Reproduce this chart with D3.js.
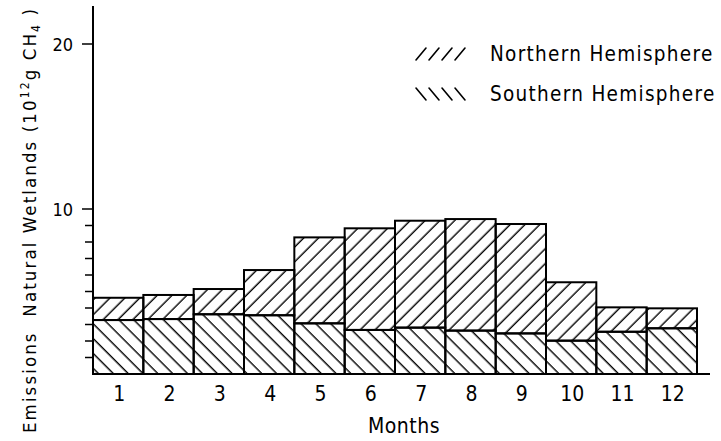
<!DOCTYPE html>
<html>
<head>
<meta charset="utf-8">
<script src="https://cdn.jsdelivr.net/npm/d3@7"></script>
<style>
  html, body { margin: 0; padding: 0; background: #fff; }
  svg { display: block; }
  text { font-family: "DejaVu Sans Condensed", "DejaVu Sans", sans-serif; fill: #000; }
</style>
</head>
<body>
<script>
// Monthly methane emissions from natural wetlands, split by hemisphere (10^12 g CH4)
const months = ["1", "2", "3", "4", "5", "6", "7", "8", "9", "10", "11", "12"];
const southern = [3.27, 3.33, 3.62, 3.56, 3.07, 2.67, 2.81, 2.63, 2.46, 2.02, 2.56, 2.77];
const northern = [1.35, 1.46, 1.53, 2.74, 5.21, 6.16, 6.48, 6.76, 6.63, 3.54, 1.48, 1.21];
const yMajorTicks = [10, 20];
const yMinorTicks = [1, 2, 3, 4, 5, 6, 7, 8, 9];
const seriesNames = ["Northern Hemisphere", "Southern Hemisphere"];

const W = 721, H = 441;
const x0 = 93, x1 = 697;
const svg = d3.select("body").append("svg").attr("width", W).attr("height", H);

// hatch patterns: "/" for the northern part, "\" for the southern part
const defs = svg.append("defs");
function hatch(id, angle) {
  const p = defs.append("pattern")
    .attr("id", id)
    .attr("patternUnits", "userSpaceOnUse")
    .attr("width", 10.5).attr("height", 10.5)
    .attr("patternTransform", `rotate(${angle})`);
  p.append("line")
    .attr("x1", 5).attr("y1", -2).attr("x2", 5).attr("y2", 13)
    .attr("stroke", "#000").attr("stroke-width", 1.4);
}
hatch("hatchN", 45);
hatch("hatchS", -45);

const x = d3.scaleBand().domain(months).range([x0, x1]).padding(0);
const y = d3.scaleLinear().domain([0, 20]).range([374, 44]);

// stacked series: southern at the bottom, northern on top
const rows = months.map((m, i) => ({ month: m, south: southern[i], north: northern[i] }));
const stack = d3.stack().keys(["south", "north"])(rows);
const fills = { south: "url(#hatchS)", north: "url(#hatchN)" };

svg.append("g").selectAll("g")
  .data(stack)
  .join("g")
  .attr("fill", d => fills[d.key])
  .selectAll("rect")
  .data(d => d)
  .join("rect")
  .attr("x", d => x(d.data.month))
  .attr("width", x.bandwidth())
  .attr("y", d => y(d[1]))
  .attr("height", d => y(d[0]) - y(d[1]))
  .attr("stroke", "#000")
  .attr("stroke-width", 2);

// y axis: vertical line, major and minor ticks
const gy = svg.append("g");
gy.append("line")
  .attr("x1", x0).attr("x2", x0)
  .attr("y1", 6).attr("y2", y(0) + 1)
  .attr("stroke", "#000").attr("stroke-width", 2);
gy.selectAll("line.minor").data(yMinorTicks).join("line")
  .attr("class", "minor")
  .attr("x1", x0 - 8).attr("x2", x0)
  .attr("y1", d => y(d)).attr("y2", d => y(d))
  .attr("stroke", "#000").attr("stroke-width", 1.5);
gy.selectAll("line.major").data(yMajorTicks).join("line")
  .attr("class", "major")
  .attr("x1", x0 - 11).attr("x2", x0)
  .attr("y1", d => y(d)).attr("y2", d => y(d))
  .attr("stroke", "#000").attr("stroke-width", 1.5);
gy.selectAll("text").data(yMajorTicks).join("text")
  .attr("x", x0 - 20)
  .attr("y", d => y(d) + 6.5)
  .attr("text-anchor", "end")
  .attr("font-size", 18)
  .text(d => d);

// x axis baseline and month labels
svg.append("line")
  .attr("x1", x0).attr("x2", 710)
  .attr("y1", y(0)).attr("y2", y(0))
  .attr("stroke", "#000").attr("stroke-width", 2);
svg.append("g").selectAll("text").data(months).join("text")
  .attr("x", d => x(d) + x.bandwidth() / 2 + 1)
  .attr("y", 401)
  .attr("text-anchor", "middle")
  .attr("font-size", 21)
  .text(d => d);

svg.append("text")
  .attr("x", 404).attr("y", 433)
  .attr("text-anchor", "middle")
  .attr("font-size", 21)
  .attr("letter-spacing", 0.5)
  .text("Months");

// y axis title with superscript and subscript
const yt = svg.append("text")
  .attr("transform", "translate(36,220) rotate(-90)")
  .attr("text-anchor", "middle")
  .attr("font-size", 18.5)
  .attr("letter-spacing", 2.1);
yt.append("tspan").text("Emissions\u00a0\u00a0Natural Wetlands (10");
yt.append("tspan").attr("font-size", 12).attr("dy", -7).text("12");
yt.append("tspan").attr("dy", 7).text("g CH");
yt.append("tspan").attr("font-size", 12).attr("dy", 4).text("4");
yt.append("tspan").attr("dy", -4).text(" )");

// legend: short hatch strokes followed by the series name
const legend = svg.append("g");
const legendY = [54, 94];
seriesNames.forEach((name, i) => {
  const g = legend.append("g").attr("transform", `translate(416,${legendY[i]})`);
  const dir = i === 0 ? 1 : -1;
  g.selectAll("line").data(d3.range(4)).join("line")
    .attr("x1", k => k * 13)
    .attr("x2", k => k * 13 + 10)
    .attr("y1", () => dir * 6)
    .attr("y2", () => -dir * 6)
    .attr("stroke", "#000").attr("stroke-width", 1.6)
    .attr("stroke-linecap", "round");
  g.append("text")
    .attr("x", 74).attr("y", 7)
    .attr("font-size", 20.5)
    .attr("letter-spacing", 1.3)
    .text(name);
});
</script>
</body>
</html>
